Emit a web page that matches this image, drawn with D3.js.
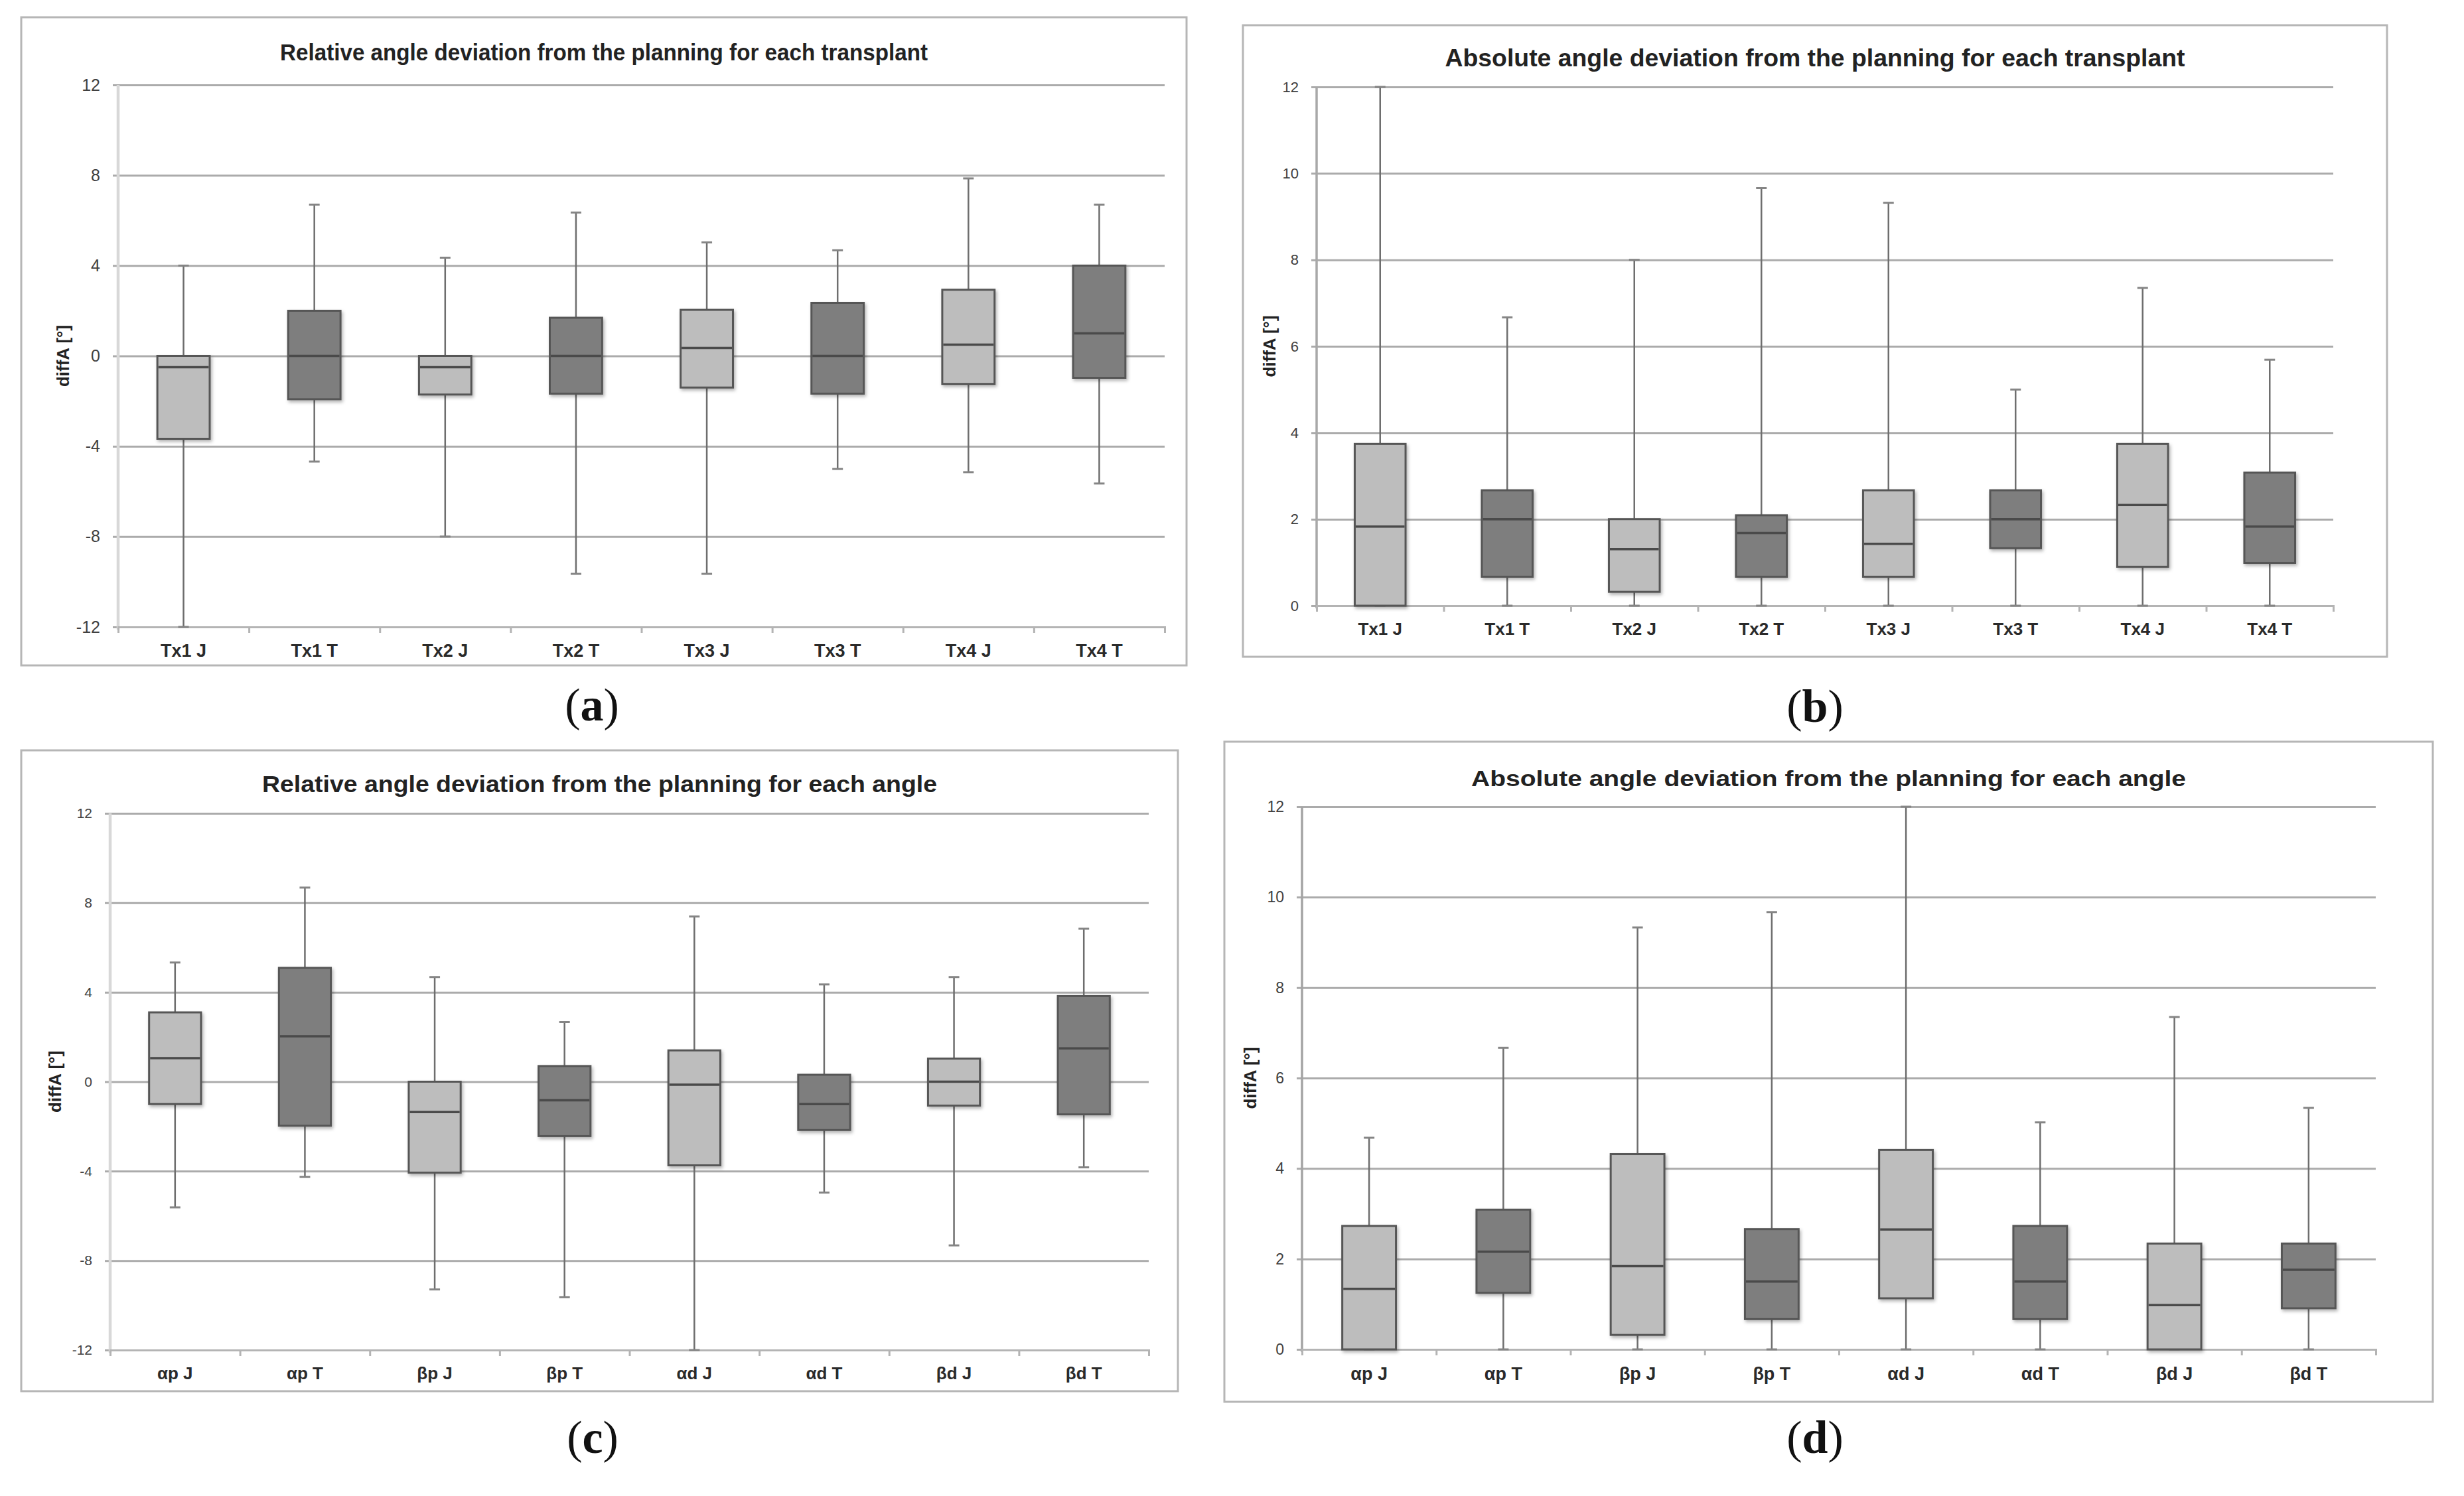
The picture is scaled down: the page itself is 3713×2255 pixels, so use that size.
<!DOCTYPE html>
<html>
<head>
<meta charset="utf-8">
<script src="https://cdn.jsdelivr.net/npm/d3@7"></script>
<style>
  body { margin: 0; background: #ffffff; }
</style>
</head>
<body>
<div id="chart"></div>
<script>
// Categories and tick values
var txCategories = ["Tx1 J", "Tx1 T", "Tx2 J", "Tx2 T", "Tx3 J", "Tx3 T", "Tx4 J", "Tx4 T"];
var angleCategories = ["αp J", "αp T", "βp J", "βp T", "αd J", "αd T", "βd J", "βd T"];
var relTicks = [-12, -8, -4, 0, 4, 8, 12];
var absTicks = [0, 2, 4, 6, 8, 10, 12];

// (a) relative deviation per transplant
var relTxLow = [-12, -4.68, -8, -9.65, -9.65, -5.0, -5.15, -5.65];
var relTxQ1 = [-3.67, -1.92, -1.71, -1.67, -1.4, -1.67, -1.24, -0.97];
var relTxMedian = [-0.5, 0, -0.5, 0, 0.35, 0, 0.5, 1.0];
var relTxQ3 = [0, 2.0, 0, 1.69, 2.04, 2.35, 2.93, 4.0];
var relTxHigh = [4.0, 6.7, 4.35, 6.35, 5.03, 4.68, 7.86, 6.7];

// (b) absolute deviation per transplant
var absTxLow = [0, 0, 0, 0, 0, 0, 0, 0];
var absTxQ1 = [0, 0.67, 0.32, 0.67, 0.67, 1.33, 0.9, 0.99];
var absTxMedian = [1.83, 2.0, 1.31, 1.68, 1.43, 2.0, 2.33, 1.83];
var absTxQ3 = [3.74, 2.67, 2.0, 2.09, 2.67, 2.67, 3.74, 3.08];
var absTxHigh = [12, 6.67, 8.0, 9.66, 9.32, 5.0, 7.35, 5.69];

// (c) relative deviation per angle
var relAngLow = [-5.62, -4.26, -9.29, -9.64, -12, -4.96, -7.32, -3.83];
var relAngQ1 = [-1.0, -1.97, -4.07, -2.43, -3.74, -2.16, -1.07, -1.46];
var relAngMedian = [1.05, 2.03, -1.36, -0.83, -0.13, -1.0, 0, 1.49];
var relAngQ3 = [3.1, 5.09, 0, 0.7, 1.4, 0.31, 1.03, 3.83];
var relAngHigh = [5.33, 8.68, 4.68, 2.67, 7.39, 4.35, 4.68, 6.84];

// (d) absolute deviation per angle
var absAngLow = [0, 0, 0, 0, 0, 0, 0, 0];
var absAngQ1 = [0, 1.25, 0.32, 0.67, 1.13, 0.67, 0, 0.91];
var absAngMedian = [1.34, 2.16, 1.84, 1.5, 2.65, 1.5, 0.98, 1.76];
var absAngQ3 = [2.73, 3.09, 4.32, 2.66, 4.41, 2.73, 2.34, 2.34];
var absAngHigh = [4.68, 6.67, 9.33, 9.67, 12, 5.02, 7.35, 5.34];

// helper to zip the arrays into box records
function makeBoxes(cats, low, q1, med, q3, high) {
  return cats.map(function(c, i) {
    return { cat: c, low: low[i], q1: q1[i], med: med[i], q3: q3[i], high: high[i] };
  });
}

var panels = [
  {
    letter: "a", title: "Relative angle deviation from the planning for each transplant",
    boxes: makeBoxes(txCategories, relTxLow, relTxQ1, relTxMedian, relTxQ3, relTxHigh),
    ticks: relTicks,
    frame: [32, 26, 1788, 1003], plot: { left: 178, right: 1755, top: 128, bottom: 945 },
    titleY: 91, titleLen: 976, titleSize: 35,
    tickSize: 25, xLabelY: 990, xLabelSize: 27, yLabelX: 95, letterX: 892, letterY: 1086,
    axisColor: "#d8d8d8", axisWidth: 4.5
  },
  {
    letter: "b", title: "Absolute angle deviation from the planning for each transplant",
    boxes: makeBoxes(txCategories, absTxLow, absTxQ1, absTxMedian, absTxQ3, absTxHigh),
    ticks: absTicks,
    frame: [1873, 38, 3597, 990], plot: { left: 1984, right: 3516, top: 131, bottom: 913 },
    titleY: 100, titleLen: 1115, titleSize: 36,
    tickSize: 22, xLabelY: 957, xLabelSize: 26, yLabelX: 1913, letterX: 2735, letterY: 1088,
    axisColor: "#a8a8a8", axisWidth: 3.5
  },
  {
    letter: "c", title: "Relative angle deviation from the planning for each angle",
    boxes: makeBoxes(angleCategories, relAngLow, relAngQ1, relAngMedian, relAngQ3, relAngHigh),
    ticks: relTicks,
    frame: [32, 1131, 1775, 2097], plot: { left: 166, right: 1731, top: 1226, bottom: 2035 },
    titleY: 1194, titleLen: 1017, titleSize: 35,
    tickSize: 21, xLabelY: 2079, xLabelSize: 26, yLabelX: 83, letterX: 893, letterY: 2190,
    axisColor: "#d8d8d8", axisWidth: 4.5
  },
  {
    letter: "d", title: "Absolute angle deviation from the planning for each angle",
    boxes: makeBoxes(angleCategories, absAngLow, absAngQ1, absAngMedian, absAngQ3, absAngHigh),
    ticks: absTicks,
    frame: [1845, 1118, 3666, 2113], plot: { left: 1962, right: 3580, top: 1216, bottom: 2034 },
    titleY: 1185, titleLen: 1077, titleSize: 34,
    tickSize: 23, xLabelY: 2080, xLabelSize: 27, yLabelX: 1884, letterX: 2735, letterY: 2190,
    axisColor: "#a4a4a4", axisWidth: 3.5
  }
];

var svgWidth = 3713;
var svgHeight = 2255;

var svg = d3.select("#chart")
  .append("svg")
  .attr("width", svgWidth)
  .attr("height", svgHeight)
  .style("display", "block");

svg.append("rect")
  .attr("width", svgWidth)
  .attr("height", svgHeight)
  .attr("fill", "#ffffff");

// soft shadow under the boxes
var shadow = svg.append("defs").append("filter")
  .attr("id", "boxShadow")
  .attr("x", "-20%").attr("y", "-20%")
  .attr("width", "150%").attr("height", "150%");
shadow.append("feDropShadow")
  .attr("dx", 2).attr("dy", 3)
  .attr("stdDeviation", 2.5)
  .attr("flood-color", "#000")
  .attr("flood-opacity", 0.3);

var narrowFont = "'Liberation Sans Narrow', 'Arial Narrow', 'Liberation Sans', Arial, sans-serif";
var boldFont = "'Liberation Sans', Arial, Helvetica, sans-serif";

panels.forEach(function(p) {
  var g = svg.append("g");
  var w = p.plot.right - p.plot.left;

  // panel frame
  g.append("rect")
    .attr("x", p.frame[0])
    .attr("y", p.frame[1])
    .attr("width", p.frame[2] - p.frame[0])
    .attr("height", p.frame[3] - p.frame[1])
    .attr("fill", "#ffffff")
    .attr("stroke", "#b6b6b6")
    .attr("stroke-width", 3);

  // scales
  var x = d3.scaleBand()
    .domain(p.boxes.map(d => d.cat))
    .range([p.plot.left, p.plot.right])
    .paddingInner(0.6)
    .paddingOuter(0.3);

  var y = d3.scaleLinear()
    .domain([d3.min(p.ticks), d3.max(p.ticks)])
    .range([p.plot.bottom, p.plot.top]);

  // gridlines + y tick labels (plain hyphen for negatives, like the original)
  var yAxis = g.append("g")
    .attr("transform", `translate(${p.plot.left - 8}, 0)`)
    .call(d3.axisLeft(y).tickValues(p.ticks).tickFormat(d => String(d))
      .tickSize(-(w + 8)).tickPadding(19));
  yAxis.select(".domain").remove();
  yAxis.selectAll(".tick line")
    .attr("stroke", "#ababab")
    .attr("stroke-width", 3);
  yAxis.selectAll(".tick text")
    .attr("fill", "#404040")
    .attr("font-family", narrowFont)
    .attr("font-stretch", "condensed")
    .attr("font-size", p.tickSize);

  // vertical axis line
  g.append("line")
    .attr("x1", p.plot.left).attr("x2", p.plot.left)
    .attr("y1", p.plot.top).attr("y2", p.plot.bottom + 4)
    .attr("stroke", p.axisColor)
    .attr("stroke-width", p.axisWidth);

  // bottom axis with ticks on category boundaries
  var edge = d3.scaleLinear().domain([0, p.boxes.length]).range([p.plot.left, p.plot.right]);
  var xEdges = g.append("g")
    .attr("transform", `translate(0, ${p.plot.bottom})`)
    .call(d3.axisBottom(edge).ticks(p.boxes.length).tickFormat("").tickSize(9).tickSizeOuter(9));
  xEdges.selectAll("path, line")
    .attr("stroke", "#b4b4b4")
    .attr("stroke-width", 3);

  // category labels
  var xLabels = g.append("g")
    .attr("transform", `translate(0, ${p.plot.bottom})`)
    .call(d3.axisBottom(x).tickSize(0));
  xLabels.select(".domain").remove();
  xLabels.selectAll("text")
    .attr("y", p.xLabelY - p.plot.bottom)
    .attr("dy", 0)
    .attr("fill", "#2a2a2a")
    .attr("font-family", boldFont)
    .attr("font-weight", "bold")
    .attr("font-size", p.xLabelSize);

  var boxG = g.append("g");
  var bw = x.bandwidth();

  // whiskers
  boxG.selectAll(".whisker")
    .data(p.boxes)
    .enter()
    .append("line")
    .attr("x1", d => x(d.cat) + bw / 2)
    .attr("x2", d => x(d.cat) + bw / 2)
    .attr("y1", d => y(d.low))
    .attr("y2", d => y(d.high))
    .attr("stroke", "#6e6e6e")
    .attr("stroke-width", 2.5);

  // whisker caps
  ["low", "high"].forEach(function(k) {
    boxG.selectAll(".cap-" + k)
      .data(p.boxes)
      .enter()
      .append("line")
      .attr("x1", d => x(d.cat) + bw / 2 - 8)
      .attr("x2", d => x(d.cat) + bw / 2 + 8)
      .attr("y1", d => y(d[k]))
      .attr("y2", d => y(d[k]))
      .attr("stroke", "#858585")
      .attr("stroke-width", 3);
  });

  // boxes
  boxG.selectAll(".box")
    .data(p.boxes)
    .enter()
    .append("rect")
    .attr("x", d => x(d.cat))
    .attr("width", bw)
    .attr("y", d => y(d.q3))
    .attr("height", d => Math.max(1, y(d.q1) - y(d.q3)))
    .attr("fill", d => d.cat.slice(-1) === "J" ? "#bdbdbd" : "#7e7e7e")
    .attr("stroke", "#565656")
    .attr("stroke-width", 3)
    .attr("filter", "url(#boxShadow)");

  // medians
  boxG.selectAll(".median")
    .data(p.boxes)
    .enter()
    .append("line")
    .attr("x1", d => x(d.cat) + 1.5)
    .attr("x2", d => x(d.cat) + bw - 1.5)
    .attr("y1", d => y(d.med))
    .attr("y2", d => y(d.med))
    .attr("stroke", "#4a4a4a")
    .attr("stroke-width", 3.5);

  // title
  g.append("text")
    .attr("x", (p.frame[0] + p.frame[2]) / 2)
    .attr("y", p.titleY)
    .attr("text-anchor", "middle")
    .attr("font-family", boldFont)
    .attr("font-weight", "bold")
    .attr("font-size", p.titleSize)
    .attr("textLength", p.titleLen)
    .attr("lengthAdjust", "spacingAndGlyphs")
    .attr("fill", "#222222")
    .text(p.title);

  // y axis label
  g.append("text")
    .attr("transform", `translate(${p.yLabelX}, ${(p.plot.top + p.plot.bottom) / 2}) rotate(-90)`)
    .attr("text-anchor", "middle")
    .attr("dominant-baseline", "central")
    .attr("font-family", boldFont)
    .attr("font-weight", "bold")
    .attr("font-size", 26)
    .attr("fill", "#222222")
    .text("diffA [°]");

  // sub-figure letter, bold letter inside plain parentheses
  var letter = svg.append("text")
    .attr("x", p.letterX)
    .attr("y", p.letterY)
    .attr("text-anchor", "middle")
    .attr("font-family", "'Liberation Serif', 'DejaVu Serif', serif")
    .attr("font-size", 70)
    .attr("fill", "#111111");
  letter.append("tspan").text("(");
  letter.append("tspan").attr("font-weight", "bold").text(p.letter);
  letter.append("tspan").text(")");
});
</script>
</body>
</html>
